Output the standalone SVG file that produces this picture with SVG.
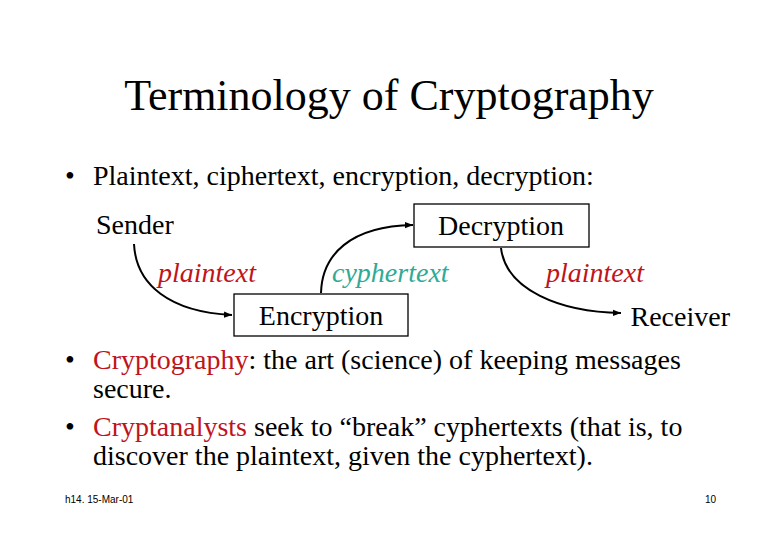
<svg xmlns="http://www.w3.org/2000/svg" width="780" height="540" viewBox="0 0 780 540">
<defs>
<marker id="ah" viewBox="0 0 10 10" refX="10" refY="5" markerWidth="8" markerHeight="8" markerUnits="userSpaceOnUse" orient="auto">
<path d="M0,1 L10,5 L0,9 z" fill="#000"/>
</marker>
<style>
.t{font-family:"Liberation Serif","Times New Roman",serif;fill:#000}
.b{font-size:28px}
.red{fill:#C0141C}
.teal{fill:#2FAA95}
.it{font-style:italic}
.box{fill:#fff;stroke:#000;stroke-width:1.3}
.c{fill:none;stroke:#000;stroke-width:2}
.f{font-family:"Liberation Sans",Arial,sans-serif;font-size:10px;fill:#000}
</style>
</defs>
<rect width="780" height="540" fill="#fff"/>
<text class="t" x="389" y="110" font-size="44" text-anchor="middle">Terminology of Cryptography</text>
<text class="t b" x="65" y="185">•</text>
<text class="t b" x="93" y="185">Plaintext, ciphertext, encryption, decryption:</text>
<g id="connectors">
<path class="c" d="M134,244 C136,285 170,312 232,315" marker-end="url(#ah)"/>
<path class="c" d="M321,293 C322,255 350,226 413,225" marker-end="url(#ah)"/>
<path class="c" d="M501,248 C506,290 560,312 621,313" marker-end="url(#ah)"/>
</g>
<g id="sender"><text class="t b" x="96" y="234">Sender</text></g>
<g id="decryption"><rect class="box" x="414" y="204" width="175" height="43"/><text class="t b" x="501" y="235" text-anchor="middle">Decryption</text></g>
<g id="encryption"><rect class="box" x="234" y="294" width="174" height="42"/><text class="t b" x="321" y="325" text-anchor="middle">Encryption</text></g>
<g id="receiver"><text class="t b" x="730" y="326" text-anchor="end">Receiver</text></g>
<text class="t b it red" x="158" y="282">plaintext</text>
<text class="t b it teal" x="332" y="282">cyphertext</text>
<text class="t b it red" x="546" y="282">plaintext</text>
<text class="t b" x="65" y="369">•</text>
<text class="t b" x="93" y="369"><tspan class="red">Cryptography</tspan>: the art (science) of keeping messages</text>
<text class="t b" x="93" y="398">secure.</text>
<text class="t b" x="65" y="436">•</text>
<text class="t b" x="93" y="436"><tspan class="red">Cryptanalysts</tspan> seek to “break” cyphertexts (that is, to</text>
<text class="t b" x="93" y="465">discover the plaintext, given the cyphertext).</text>
<text class="f" x="65" y="503">h14. 15-Mar-01</text>
<text class="f" x="705" y="503">10</text>
</svg>
